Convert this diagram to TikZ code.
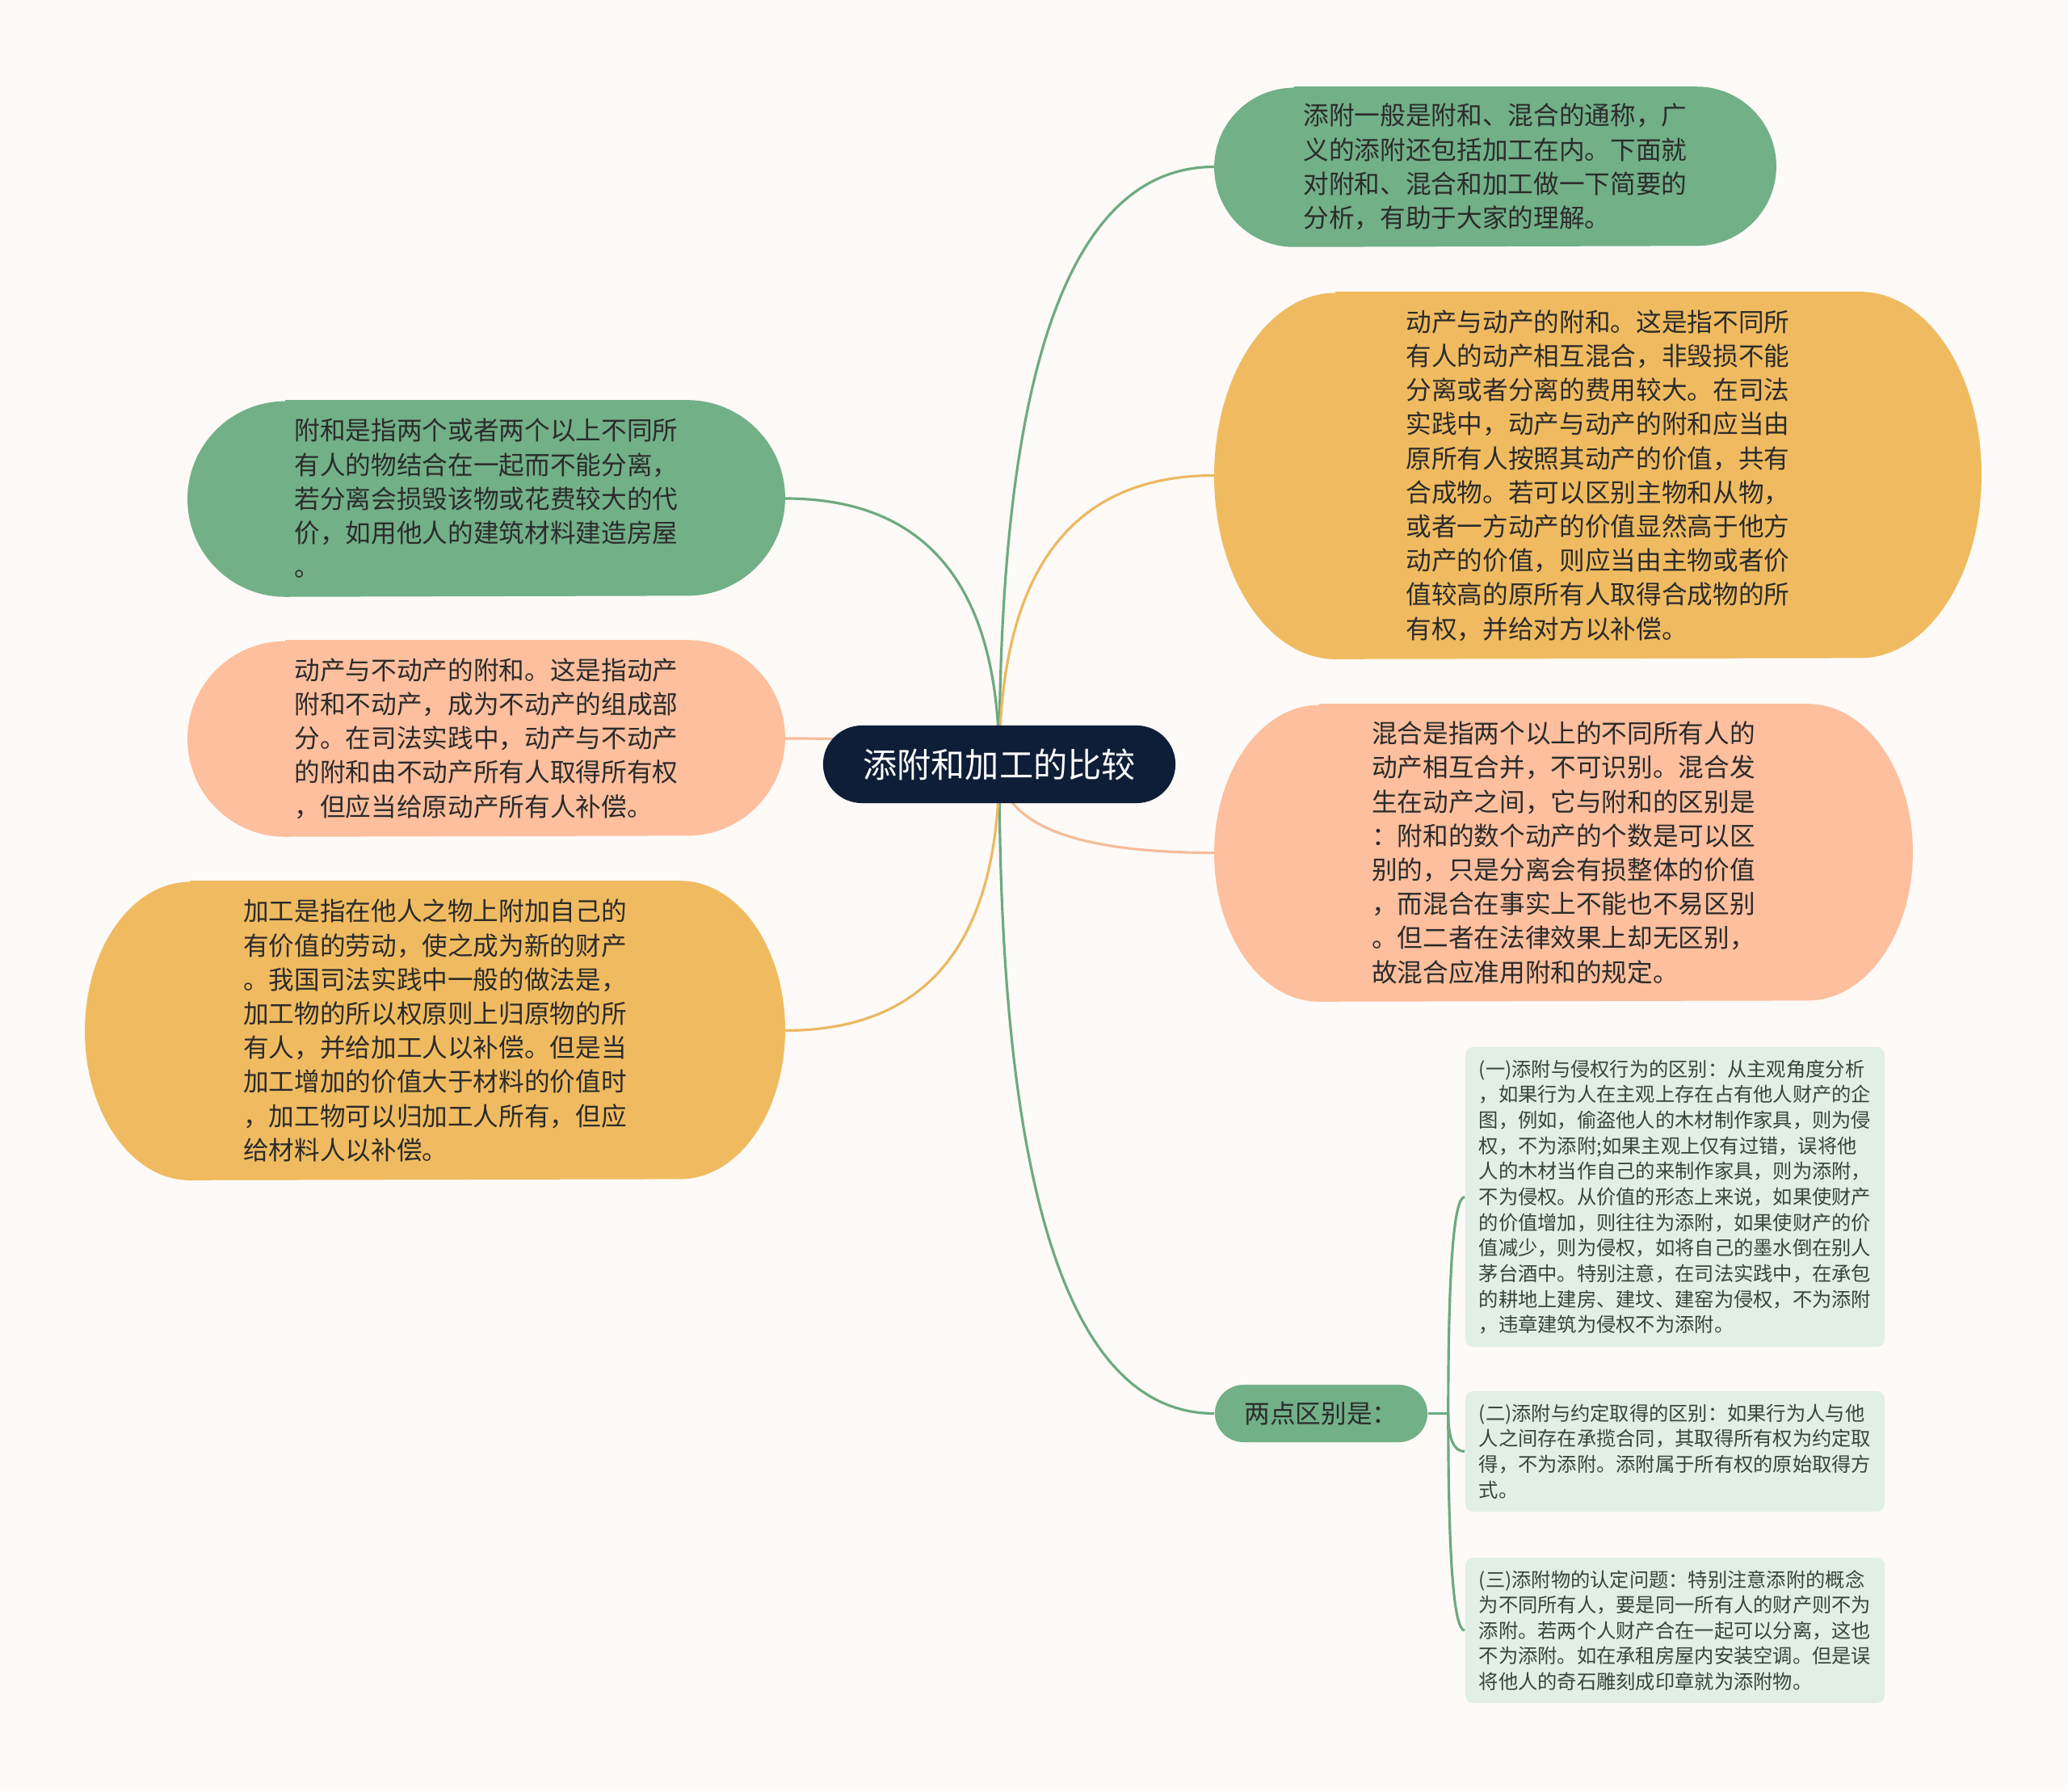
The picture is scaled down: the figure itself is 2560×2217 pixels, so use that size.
\documentclass[tikz,border=0pt]{standalone}
\usepackage{fontspec}
\setmainfont{Noto Sans CJK SC}
\usetikzlibrary{calc}
\usetikzlibrary{shapes.misc}

\definecolor{bgcream}{HTML}{FDFAF7}
\definecolor{topicgreen}{HTML}{72B087}
\definecolor{topicorange}{HTML}{F0BB60}
\definecolor{topicsalmon}{HTML}{FDBF9D}
\definecolor{centernavy}{HTML}{0E1E38}
\definecolor{notegreen}{HTML}{E2EFE5}
\definecolor{linegreen}{HTML}{6DAA80}
\definecolor{lineorange}{HTML}{EDB862}
\definecolor{linesalmon}{HTML}{F6BC9A}
\definecolor{textdark}{HTML}{2B2B2B}
\definecolor{notetext}{HTML}{36463A}

\pgfdeclarelayer{background}
\pgfsetlayers{background,main}

% rectangle with half-ellipse ends behind a topic node
\newcommand{\topicshape}[4]{%
	\fill[#1] ($(#2.north west)+(#3,0)$) -- ($(#2.north east)-(#3,0)$)
		arc[start angle=90,end angle=-90,x radius=#3,y radius=#4]
		-- ($(#2.south west)+(#3,0)$)
		arc[start angle=270,end angle=90,x radius=#3,y radius=#4] -- cycle;}

\tikzset{
	topic/.style={rectangle,inner sep=0pt,align=left,text=textdark,font=\fontsize{9pt}{12pt}\selectfont},
	note/.style={rectangle,rounded corners=0.1cm,fill=notegreen,inner sep=0pt,align=left,text=notetext,
		minimum width=5.19cm,font=\fontsize{6.9pt}{9pt}\selectfont},
	link/.style={line width=0.9pt},
	branch/.style={to path={.. controls ($(\tikztostart)!2/3!(\tikztostart |- \tikztotarget)$)
		and ($(\tikztotarget)!2/3!(\tikztostart |- \tikztotarget)$) .. (\tikztotarget)}}
}

\begin{document}
\begin{tikzpicture}[x=0.01cm,y=0.01cm]
	%canvas
	\useasboundingbox (0,0) rectangle (2560,2217);

	%centre
	\node[rounded rectangle,fill=centernavy,text=white,minimum width=4.36cm,minimum height=0.96cm,
		inner sep=0pt,font=\fontsize{12pt}{14pt}\selectfont] (c) at (1237,1271) {添附和加工的比较};

	%right topics
	\node[topic,minimum width=6.94cm,minimum height=1.97cm] (n1) at (1851,2010.5)
		{添附一般是附和、混合的通称，广\\义的添附还包括加工在内。下面就\\对附和、混合和加工做一下简要的\\分析，有助于大家的理解。};
	\node[topic,minimum width=9.48cm,minimum height=4.53cm] (n2) at (1978,1628.5)
		{动产与动产的附和。这是指不同所\\有人的动产相互混合，非毁损不能\\分离或者分离的费用较大。在司法\\实践中，动产与动产的附和应当由\\原所有人按照其动产的价值，共有\\合成物。若可以区别主物和从物，\\或者一方动产的价值显然高于他方\\动产的价值，则应当由主物或者价\\值较高的原所有人取得合成物的所\\有权，并给对方以补偿。};
	\node[topic,minimum width=8.63cm,minimum height=3.67cm] (n3) at (1935.5,1161.5)
		{混合是指两个以上的不同所有人的\\动产相互合并，不可识别。混合发\\生在动产之间，它与附和的区别是\\：附和的数个动产的个数是可以区\\别的，只是分离会有损整体的价值\\，而混合在事实上不能也不易区别\\。但二者在法律效果上却无区别，\\故混合应准用附和的规定。};
	\node[rounded rectangle,fill=topicgreen,text=textdark,minimum width=2.63cm,minimum height=0.71cm,
		inner sep=0pt,font=\fontsize{9pt}{12pt}\selectfont] (d) at (1635.5,467.5) {两点区别是：};

	%left topics
	\node[topic,minimum width=7.38cm,minimum height=2.42cm] (a) at (602,1600)
		{附和是指两个或者两个以上不同所\\有人的物结合在一起而不能分离，\\若分离会损毁该物或花费较大的代\\价，如用他人的建筑材料建造房屋\\。};
	\node[topic,minimum width=7.38cm,minimum height=2.42cm] (b) at (602,1303)
		{动产与不动产的附和。这是指动产\\附和不动产，成为不动产的组成部\\分。在司法实践中，动产与不动产\\的附和由不动产所有人取得所有权\\，但应当给原动产所有人补偿。};
	\node[topic,minimum width=8.65cm,minimum height=3.69cm] (g) at (538.5,941.5)
		{加工是指在他人之物上附加自己的\\有价值的劳动，使之成为新的财产\\。我国司法实践中一般的做法是，\\加工物的所以权原则上归原物的所\\有人，并给加工人以补偿。但是当\\加工增加的价值大于材料的价值时\\，加工物可以归加工人所有，但应\\给材料人以补偿。};

	%notes
	\node[note,minimum height=3.71cm] (d1) at (2073.5,735.5)
		{(一)添附与侵权行为的区别：从主观角度分析\\，如果行为人在主观上存在占有他人财产的企\\图，例如，偷盗他人的木材制作家具，则为侵\\权，不为添附;如果主观上仅有过错，误将他\\人的木材当作自己的来制作家具，则为添附，\\不为侵权。从价值的形态上来说，如果使财产\\的价值增加，则往往为添附，如果使财产的价\\值减少，则为侵权，如将自己的墨水倒在别人\\茅台酒中。特别注意，在司法实践中，在承包\\的耕地上建房、建坟、建窑为侵权，不为添附\\，违章建筑为侵权不为添附。};
	\node[note,minimum height=1.49cm] (d2) at (2073.5,420.5)
		{(二)添附与约定取得的区别：如果行为人与他\\人之间存在承揽合同，其取得所有权为约定取\\得，不为添附。添附属于所有权的原始取得方\\式。};
	\node[note,minimum height=1.80cm] (d3) at (2073.5,199)
		{(三)添附物的认定问题：特别注意添附的概念\\为不同所有人，要是同一所有人的财产则不为\\添附。若两个人财产合在一起可以分离，这也\\不为添附。如在承租房屋内安装空调。但是误\\将他人的奇石雕刻成印章就为添附物。};
	\coordinate (dj) at ($(d.east)+(25,0)$);

	\begin{pgfonlayer}{background}
		\fill[bgcream] (0,0) rectangle (2560,2217);

		%branches
		\draw[link,linegreen]  (c.center) to[branch] (n1.west);
		\draw[link,lineorange] (c.center) to[branch] (n2.west);
		\draw[link,linesalmon] (c.center) to[branch] (n3.west);
		\draw[link,linegreen]  (c.center) to[branch] (d.west);
		\draw[link,linegreen]  (c.center) to[branch] (a.east);
		\draw[link,linesalmon] (c.center) to[branch] (b.east);
		\draw[link,lineorange] (c.center) to[branch] (g.east);
		\draw[link,linegreen]  (d.east) -- (dj);
		\draw[link,linegreen]  (dj) to[branch] (d1.west);
		\draw[link,linegreen]  (dj) to[branch] (d2.west);
		\draw[link,linegreen]  (dj) to[branch] (d3.west);

		%topic shapes
		\topicshape{topicgreen}{n1}{0.985cm}{0.985cm}
		\topicshape{topicorange}{n2}{1.5cm}{2.265cm}
		\topicshape{topicsalmon}{n3}{1.3cm}{1.835cm}
		\topicshape{topicgreen}{a}{1.21cm}{1.21cm}
		\topicshape{topicsalmon}{b}{1.21cm}{1.21cm}
		\topicshape{topicorange}{g}{1.3cm}{1.845cm}
	\end{pgfonlayer}
\end{tikzpicture}
\end{document}
